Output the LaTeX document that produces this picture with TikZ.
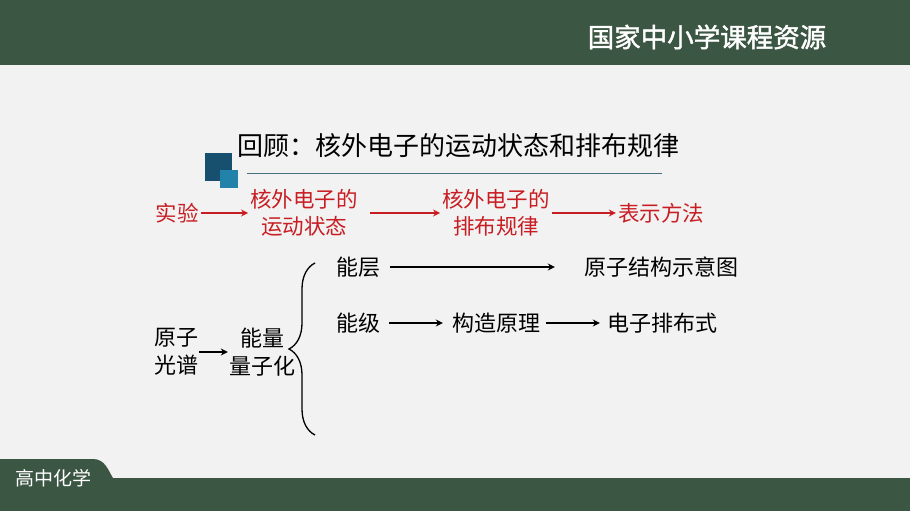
\documentclass[tikz,border=0pt]{standalone}
\usepackage{fontspec}
\setmainfont{Noto Sans CJK SC}
\newfontfamily\headfont[FakeBold=1.5]{Noto Sans CJK SC}
\usepackage{tikz}
\usetikzlibrary{calc, positioning, arrows.meta, decorations.pathreplacing}

\definecolor{bargreen}{RGB}{60,86,68}
\definecolor{pagegray}{RGB}{242,242,242}
\definecolor{sqdark}{RGB}{22,80,110}
\definecolor{sqlight}{RGB}{35,130,170}
\definecolor{redtext}{RGB}{200,30,35}
\definecolor{lineteal}{RGB}{70,110,125}

\begin{document}
\begin{tikzpicture}[>={Stealth[length=7pt, width=7pt]}, x=1pt, y=-1pt,
    txt/.style={font=\fontsize{22}{28}\selectfont, inner sep=1pt, align=center},
    redtxt/.style={font=\fontsize{21.5}{27}\selectfont, text=redtext, align=center, inner sep=2pt},
    redarrow/.style={->, draw=redtext, line width=1.3pt},
    blkarrow/.style={->, line width=1.3pt}]
    \useasboundingbox (0,0) rectangle (910,511);

    % 1. Nền và thanh tiêu đề
    \fill[pagegray] (0,0) rectangle (910,511);
    \fill[bargreen] (0,0) rectangle (910,65);
    \fill[bargreen] (0,478) rectangle (910,511);
    \fill[bargreen] (0,478) -- (0,459) -- (93,459) .. controls (105,459) and (108,470) .. (113,478) -- cycle;
    \node[font=\headfont\fontsize{26.5}{30}\selectfont, text=white] (brand) at (707,37) {国家中小学课程资源};
    \node[font=\fontsize{19}{22}\selectfont, text=white] (subject) at (53,478) {高中化学};

    % 2. Tiêu đề
    \fill[sqdark] (205,153) rectangle (232,181);
    \fill[sqlight] (220,170) rectangle (238,188);
    \node[font=\fontsize{26}{30}\selectfont, anchor=west, inner sep=0pt] (title) at (237,146)
        {回顾：核外电子的运动状态和排布规律};
    \draw[lineteal, line width=0.8pt] (247,173) -- (662,173);

    % 3. Hàng chữ đỏ
    \node[redtxt] (shiyan) at (177,213) {实验};
    \node[redtxt] (yundong) at (304,213) {核外电子的\\运动状态};
    \node[redtxt] (paibu) at (496,213) {核外电子的\\排布规律};
    \node[redtxt] (biaoshi) at (661,213) {表示方法};
    \draw[redarrow] (shiyan) -- (yundong);
    \draw[redarrow, shorten <=10pt] (yundong) -- (paibu);
    \draw[redarrow] (paibu) -- (biaoshi);

    % 4. Sơ đồ phía dưới
    \node[txt] (guangpu) at (176,352) {原子\\光谱};
    \node[txt] (lianghua) at (262,352) {能量\\量子化};
    \draw[blkarrow] (guangpu.east) -- (lianghua.west);

    \coordinate (braceA) at (315,435);
    \coordinate (braceB) at (315,263);
    \draw[line width=1.3pt, decorate, decoration={brace, amplitude=26pt}] (braceA) -- (braceB);

    \node[txt] (nengceng) at (358,267) {能层};
    \node[txt] (nengji) at (358,323) {能级};
    \node[txt] (shiyitu) at (661,267) {原子结构示意图};
    \node[txt] (gouzao) at (496,323) {构造原理};
    \node[txt] (paibushi) at (662,323) {电子排布式};
    \draw[blkarrow, shorten <=9pt, shorten >=28pt] (nengceng) -- (shiyitu);
    \draw[blkarrow, shorten <=8pt, shorten >=8pt] (nengji) -- (gouzao);
    \draw[blkarrow, shorten <=5pt, shorten >=6pt] (gouzao) -- (paibushi);

\end{tikzpicture}
\end{document}
